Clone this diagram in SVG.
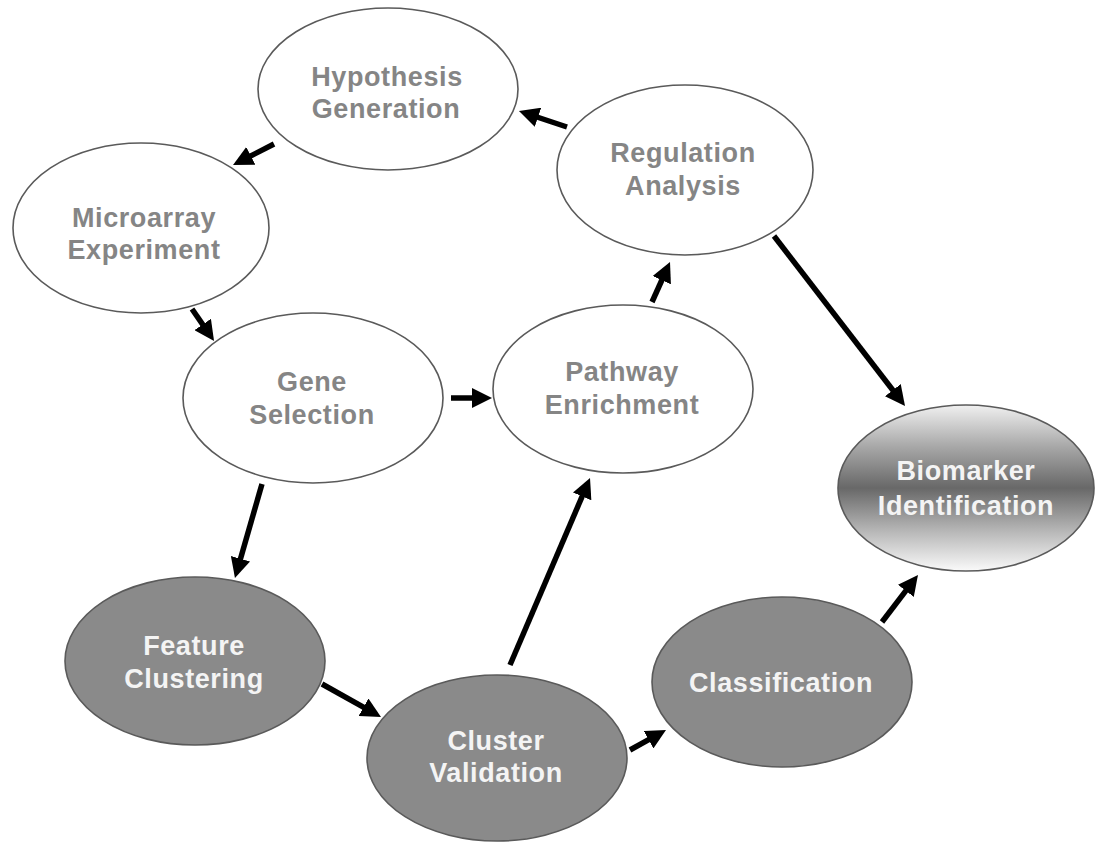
<svg xmlns="http://www.w3.org/2000/svg" width="1095" height="843" viewBox="0 0 1095 843">
<style>
.n{stroke:#5a5a5a;stroke-width:1.6}
.w{fill:#ffffff}
.d{fill:#8a8a8a}
.t{font-family:"Liberation Sans",Arial,sans-serif;font-weight:bold;font-size:27px;letter-spacing:0.6px;text-anchor:middle}
.tg{fill:#858585}
.tw{fill:#f4f4f4}
.c{stroke:#000;stroke-width:5.5;fill:none;marker-end:url(#ah)}
</style>
<defs>
<marker id="ah" viewBox="0 0 20 20" refX="9" refY="10" markerWidth="20" markerHeight="20" markerUnits="userSpaceOnUse" orient="auto">
<path d="M0,0 L20,10 L0,20 z" fill="#000"/>
</marker>
<linearGradient id="bg" x1="0" y1="0" x2="0" y2="1">
<stop offset="0" stop-color="#f0f0f0"/>
<stop offset="0.25" stop-color="#a8a8a8"/>
<stop offset="0.5" stop-color="#686868"/>
<stop offset="0.75" stop-color="#b4b4b4"/>
<stop offset="1" stop-color="#fafafa"/>
</linearGradient>
</defs>
<rect width="1095" height="843" fill="#fff"/>
<g id="connectors">
<line class="c" x1="567" y1="127" x2="529.4" y2="114.5"/>
<line class="c" x1="274" y1="144" x2="242.8" y2="160.0"/>
<line class="c" x1="192" y1="309" x2="207.8" y2="331.9"/>
<line class="c" x1="451" y1="398" x2="481" y2="398"/>
<line class="c" x1="652" y1="302" x2="665.5" y2="272.0"/>
<line class="c" x1="774" y1="236" x2="898.3" y2="397.3"/>
<line class="c" x1="262" y1="484" x2="238.0" y2="567.4"/>
<line class="c" x1="322" y1="684" x2="371.4" y2="711.6"/>
<line class="c" x1="510" y1="665" x2="585.7" y2="488.1"/>
<line class="c" x1="630" y1="750" x2="656.4" y2="735.3"/>
<line class="c" x1="882" y1="622" x2="911.3" y2="583.7"/>
</g>
<g id="hypothesis">
<ellipse class="n w" cx="388" cy="89" rx="130" ry="81"/>
<text class="t tg" x="387" y="86">Hypothesis</text>
<text class="t tg" x="386" y="118">Generation</text>
</g>
<g id="regulation">
<ellipse class="n w" cx="685" cy="170" rx="128" ry="85"/>
<text class="t tg" x="683" y="162">Regulation</text>
<text class="t tg" x="683" y="195">Analysis</text>
</g>
<g id="microarray">
<ellipse class="n w" cx="141" cy="228" rx="128" ry="85"/>
<text class="t tg" x="144" y="227">Microarray</text>
<text class="t tg" x="144" y="259">Experiment</text>
</g>
<g id="gene">
<ellipse class="n w" cx="313" cy="398" rx="130" ry="85"/>
<text class="t tg" x="312" y="391">Gene</text>
<text class="t tg" x="312" y="424">Selection</text>
</g>
<g id="pathway">
<ellipse class="n w" cx="623" cy="389" rx="130" ry="84"/>
<text class="t tg" x="622" y="381">Pathway</text>
<text class="t tg" x="622" y="414">Enrichment</text>
</g>
<g id="biomarker">
<ellipse class="n" fill="url(#bg)" cx="966" cy="488" rx="128" ry="83"/>
<text class="t tw" x="966" y="480">Biomarker</text>
<text class="t tw" x="966" y="515">Identification</text>
</g>
<g id="feature">
<ellipse class="n d" cx="195" cy="661" rx="130" ry="84"/>
<text class="t tw" x="194" y="655">Feature</text>
<text class="t tw" x="194" y="688">Clustering</text>
</g>
<g id="cluster">
<ellipse class="n d" cx="497" cy="758" rx="130" ry="83"/>
<text class="t tw" x="496" y="750">Cluster</text>
<text class="t tw" x="496" y="782">Validation</text>
</g>
<g id="classification">
<ellipse class="n d" cx="782" cy="682" rx="130" ry="85"/>
<text class="t tw" x="781" y="692">Classification</text>
</g>
</svg>
